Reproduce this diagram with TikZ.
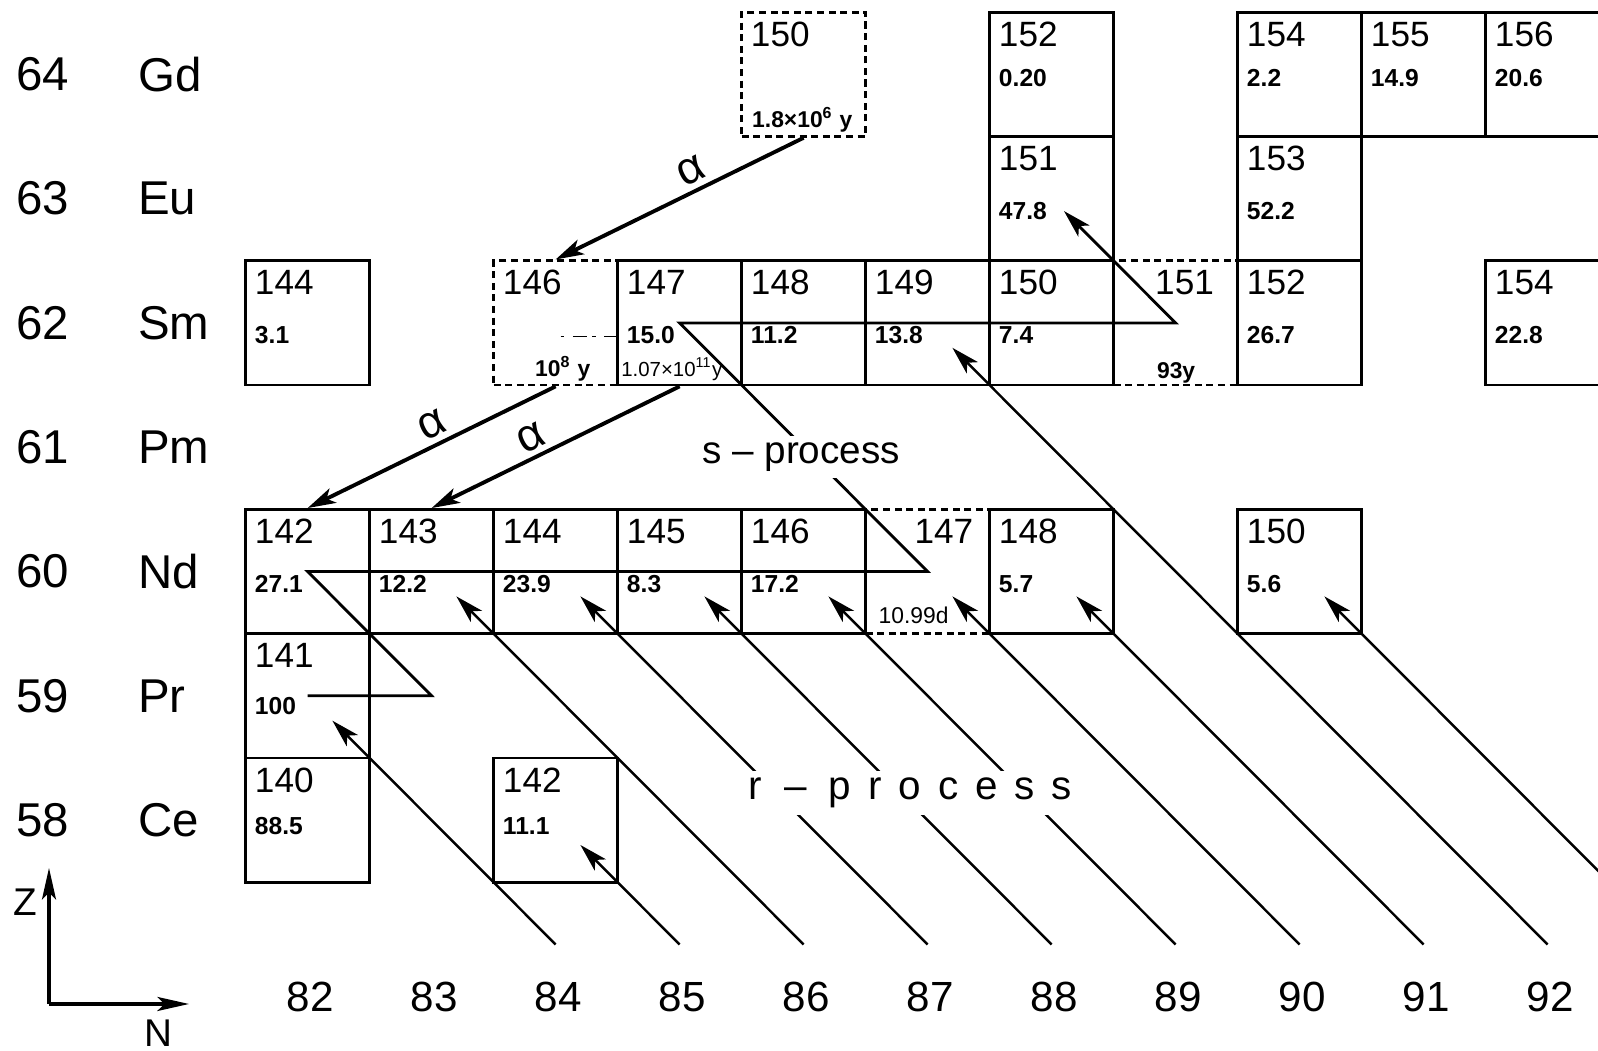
\documentclass[tikz,border=0pt]{standalone}
\usepackage{fontspec}
\setmainfont{Liberation Sans}
\usetikzlibrary{arrows.meta}

\begin{document}
\begin{tikzpicture}[
  isobox/.style={draw, line width=0.75pt, minimum width=1.24cm, minimum height=1.243cm, inner sep=0pt},
  unstable/.style={isobox, dash pattern=on 2pt off 1.3pt},
  massno/.style={anchor=base west, inner sep=0pt, font=\fontsize{10}{12}\selectfont},
  abund/.style={anchor=west, inner sep=0pt, font=\fontsize{7}{8}\selectfont\bfseries},
  halflife/.style={anchor=base west, inner sep=0pt, font=\fontsize{6.5}{8}\selectfont},
  zlabel/.style={anchor=west, inner sep=0pt, font=\fontsize{13.5}{15}\selectfont},
  nlabel/.style={font=\fontsize{12}{14}\selectfont},
  headtip/.style={-{Stealth[length=8pt,width=4.5pt,inset=2pt]}},
  rline/.style={headtip, line width=0.7pt},
  spath/.style={headtip, line width=0.8pt},
  adecay/.style={headtip, line width=1.1pt},
  alphalabel/.style={sloped, above, inner sep=1.5pt, font=\fontsize{13}{15}\selectfont},
  proclabel/.style={anchor=base, fill=white, inner sep=2pt, font=\fontsize{11}{13}\selectfont},
]
\useasboundingbox (0,0) rectangle (15.98,10.51);
\clip (0,0) rectangle (15.98,10.51);

\begin{scope}[shift={(2.456,1.687)}, x=1.24cm, y=1.243cm]
  % short-lived isotopes (dashed), drawn first
  \node[unstable] (Gd150) at (4.5,6.5) {};
  \node[unstable] (Sm146) at (2.5,4.5) {};
  \node[unstable] (Sm151) at (7.5,4.5) {};
  \node[unstable] (Nd147) at (5.5,2.5) {};
  \node[massno] at ([shift={(-0.43,0.225)}]Gd150.center) {150};
  \node[massno] at ([shift={(-0.43,0.225)}]Sm146.center) {146};
  \node[massno] at ([shift={(-0.17,0.225)}]Sm151.center) {151};
  \node[massno] at ([shift={(-0.11,0.225)}]Nd147.center) {147};
  \node[halflife, font=\fontsize{6.5}{8}\selectfont\bfseries] at ([shift={(-0.42,-0.43)}]Gd150.center) {1.8×10\textsuperscript{6} y};
  \node[halflife, font=\fontsize{6.5}{8}\selectfont\bfseries] at ([shift={(-0.17,-0.43)}]Sm146.center) {10\textsuperscript{8} y};
  \node[halflife, font=\fontsize{6.5}{8}\selectfont\bfseries] at ([shift={(-0.155,-0.45)}]Sm151.center) {93y};
  \node[halflife] at ([shift={(-0.4,-0.42)}]Nd147.center) {10.99d};

  % stable isotopes: name/u/v/mass/abundance/offset
  \foreach \nm/\u/\v/\m/\ab/\ay in {
    Gd152/6/6/152/0.20/-0.03, Gd154/8/6/154/2.2/-0.03,
    Gd155/9/6/155/14.9/-0.03, Gd156/10/6/156/20.6/-0.03,
    Eu151/6/5/151/47.8/-0.1, Eu153/8/5/153/52.2/-0.1,
    Sm144/0/4/144/3.1/-0.1, Sm147/3/4/147/15.0/-0.1,
    Sm148/4/4/148/11.2/-0.1, Sm149/5/4/149/13.8/-0.1,
    Sm150/6/4/150/7.4/-0.1, Sm152/8/4/152/26.7/-0.1,
    Sm154/10/4/154/22.8/-0.1,
    Nd142/0/2/142/27.1/-0.1, Nd143/1/2/143/12.2/-0.1,
    Nd144/2/2/144/23.9/-0.1, Nd145/3/2/145/8.3/-0.1,
    Nd146/4/2/146/17.2/-0.1, Nd148/6/2/148/5.7/-0.1,
    Nd150/8/2/150/5.6/-0.1,
    Pr141/0/1/141/100/-0.08,
    Ce140/0/0/140/88.5/-0.05, Ce142/2/0/142/11.1/-0.05} {
    \node[isobox] (\nm) at (\u+0.5,\v+0.5) {};
    \node[massno] at ([shift={(-0.43,0.225)}]\nm.center) {\m};
    \node[abund] at ([shift={(-0.43,\ay)}]\nm.center) {\ab};
  }
  \node[halflife, font=\fontsize{5.8}{7}\selectfont] at ([shift={(-0.475,-0.43)}]Sm147.center) {1.07×10\textsuperscript{11}y};
  \draw[line width=0.5pt, dash pattern=on 1pt off 2.5pt on 4pt off 1.5pt]
    ([shift={(0.04,-0.11)}]Sm146.center) -- ([shift={(0.03,-0.11)}]Sm147.west);

  % alpha decays
  \draw[adecay] (Gd150.south) -- node[alphalabel, pos=0.42] {α} (Sm146.north);
  \draw[adecay] (Sm146.south) -- node[alphalabel, pos=0.465] {α} (Nd142.north);
  \draw[adecay] (Sm147.south) -- node[alphalabel, pos=0.565] {α} (Nd143.north);

  % s-process path
  \coordinate (Pr142) at (1.5,1.5);
  \draw[spath] (Pr141.center) -- (Pr142) -- (Nd142.center) -- (Nd147.center)
    -- (Sm147.center) -- (Sm151.center) -- ([shift={(0.1,-0.1)}]Eu151.center);
  \node[proclabel] (sproc) at (4.48,3.37) {s -- process};

  % r-process isobars
  \foreach \k/\iso in {2/Pr141, 3/Ce142, 4/Nd143, 5/Nd144, 6/Nd145,
                       7/Nd146, 8/Nd147, 9/Nd148, 10/Sm149, 11/Nd150} {
    \coordinate (rfeed\k) at (\k+0.5,-0.5);
    \draw[rline] (rfeed\k) -- ([shift={(0.2,-0.2)}]\iso.center);
  }
  \node[proclabel, font=\fontsize{11.5}{13}\selectfont] (rproc) at (5.36,0.662)
    {r\hspace{0.55em}--\hspace{0.55em}p\hspace{0.42em}r\hspace{0.42em}o\hspace{0.42em}c\hspace{0.42em}e\hspace{0.42em}s\hspace{0.42em}s};

  % Z and element labels
  \foreach \z/\el [count=\i from 0] in {58/Ce,59/Pr,60/Nd,61/Pm,62/Sm,63/Eu,64/Gd} {
    \node[zlabel] (z\z) at (-1.857,\i+0.5) {\z};
    \node[zlabel] (el\z) at (-0.871,\i+0.5) {\el};
  }
  % N labels
  \foreach \n [count=\i from 0] in {82,...,92}
    \node[nlabel] (n\n) at (\i+0.52,-0.92) {\n};
\end{scope}

% axes
\coordinate (axo) at (0.49,0.47);
\coordinate (axz) at (0.49,1.83);
\coordinate (axn) at (1.89,0.47);
\draw[line width=0.9pt, -{Stealth[length=9pt,width=4pt,inset=2pt]}] (axo) -- (axz);
\draw[line width=0.9pt, -{Stealth[length=9pt,width=4pt,inset=2pt]}] (axo) -- (axn);
\node[font=\fontsize{11}{13}\selectfont] (zname) at (0.255,1.49) {Z};
\node[font=\fontsize{11}{13}\selectfont] (nname) at (1.58,0.18) {N};
\end{tikzpicture}
\end{document}
